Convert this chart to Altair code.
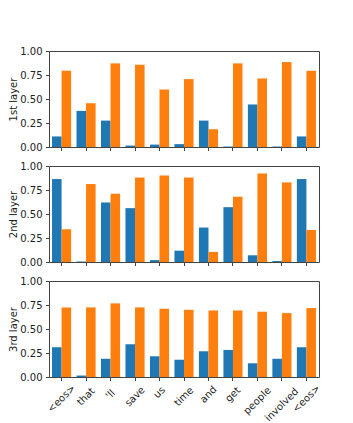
import json
import altair as alt
import pandas as pd

tokens = ["<eos>", "that", "'ll", "save", "us", "time", "and", "get", "people", "involved", "<eos>"]
layer_names = ["1st layer", "2nd layer", "3rd layer"]
series_colors = ["#1f77b4", "#ff7f0e"]

blue_1 = [0.11, 0.376, 0.275, 0.015, 0.025, 0.03, 0.275, 0.005, 0.443, 0.005, 0.11]
orange_1 = [0.794, 0.456, 0.871, 0.857, 0.599, 0.707, 0.185, 0.871, 0.714, 0.885, 0.794]
blue_2 = [0.864, 0.005, 0.62, 0.561, 0.02, 0.118, 0.359, 0.571, 0.07, 0.01, 0.864]
orange_2 = [0.341, 0.812, 0.711, 0.88, 0.902, 0.88, 0.105, 0.68, 0.923, 0.829, 0.334]
blue_3 = [0.31, 0.015, 0.19, 0.341, 0.216, 0.18, 0.268, 0.282, 0.143, 0.19, 0.31]
orange_3 = [0.725, 0.725, 0.767, 0.725, 0.711, 0.70, 0.693, 0.693, 0.68, 0.666, 0.718]

tok_arr = json.dumps(tokens)
label_expr = f"{tok_arr}[datum.value]"
pad_expr = f"5 + 0.354 * (5.8 * length({tok_arr}[datum.value]) + 7)"

FONT = "DejaVu Sans"
FRAME = "#444444"


def panel(name, blue, orange, show_labels):
    rows = []
    for i in range(len(tokens)):
        rows.append({"idx": i, "series": 0, "value": blue[i]})
        rows.append({"idx": i, "series": 1, "value": orange[i]})
    df = pd.DataFrame(rows)
    if show_labels:
        x_axis = alt.Axis(
            title=None, labels=True, domain=False, tickSize=3.5, tickColor=FRAME,
            labelExpr=label_expr, labelAngle=315, labelAlign="center",
            labelBaseline="middle", labelFontSize=10, labelColor="#222222",
            labelFont=FONT,
            labelPadding={"condition": {"test": "false", "value": 0}, "expr": pad_expr},
        )
    else:
        x_axis = alt.Axis(title=None, labels=False, domain=False, tickSize=3.5, tickColor=FRAME)
    return (
        alt.Chart(df)
        .mark_bar()
        .encode(
            x=alt.X("idx:O", axis=x_axis,
                    scale=alt.Scale(paddingInner=0.22, paddingOuter=0.124)),
            xOffset=alt.XOffset("series:N", scale=alt.Scale(domain=[0, 1], paddingInner=0, paddingOuter=0)),
            y=alt.Y(
                "value:Q",
                scale=alt.Scale(domain=[0, 1], nice=False),
                axis=alt.Axis(
                    values=[0, 0.25, 0.5, 0.75, 1.0], format=".2f", title=name,
                    tickSize=3.5, labelPadding=3.5, domain=False, grid=False,
                    tickColor=FRAME, labelFontSize=10, labelColor="#222222",
                    labelFont=FONT, titleFont=FONT, titleFontSize=10,
                    titleFontWeight="normal", titleColor="#222222", titlePadding=1,
                ),
            ),
            color=alt.Color("series:N", scale=alt.Scale(domain=[0, 1], range=series_colors), legend=None),
        )
        .properties(width=270, height=96)
    )


p1 = panel(layer_names[0], blue_1, orange_1, False)
p2 = panel(layer_names[1], blue_2, orange_2, False)
p3 = panel(layer_names[2], blue_3, orange_3, True)

chart = (
    alt.vconcat(p1, p2, p3, spacing=19, bounds="flush")
    .properties(padding={"left": 0, "top": 37, "right": 0, "bottom": 0})
    .configure_view(stroke=FRAME, strokeWidth=1)
)

chart.save("out.html", embed_options={"renderer": "svg", "actions": False})
